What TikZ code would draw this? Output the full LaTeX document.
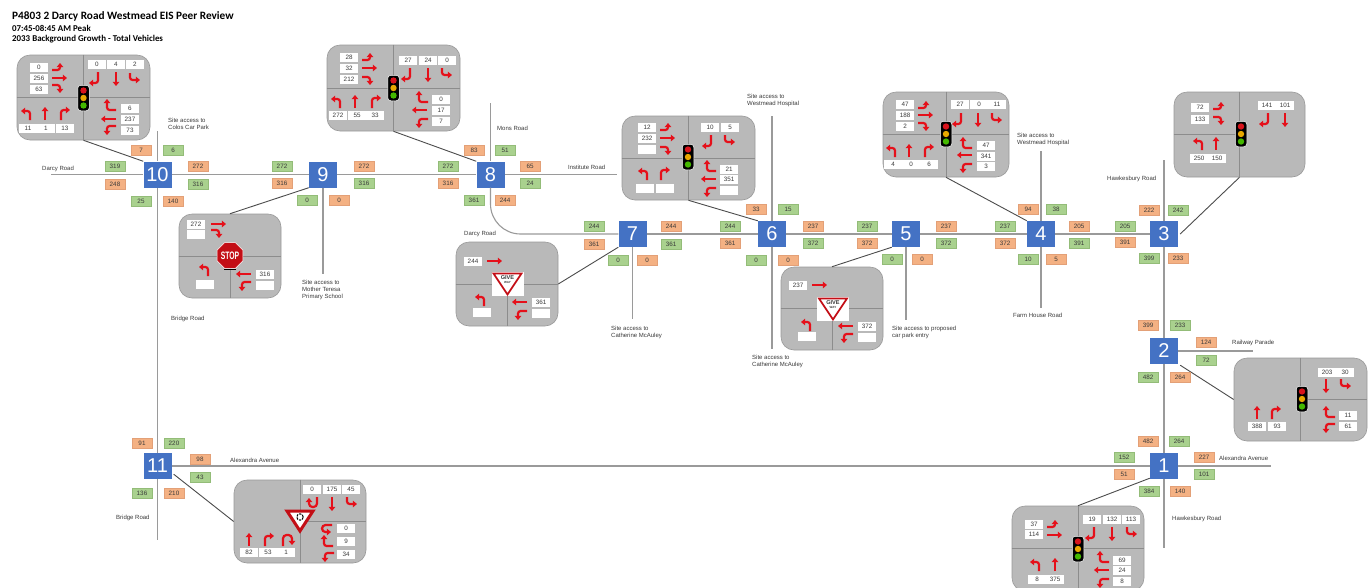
\documentclass[tikz,border=0pt]{standalone}
\usepackage{fontspec}
\setmainfont{Liberation Sans}
\newfontfamily\titlefont{Carlito}
\usetikzlibrary{arrows.meta,shapes.geometric,calc}
\definecolor{orangebox}{HTML}{F4B183}
\definecolor{orangeedge}{HTML}{E3A077}
\definecolor{greenbox}{HTML}{A9D18E}
\definecolor{greenedge}{HTML}{93BC78}
\definecolor{bluebox}{HTML}{4472C4}
\definecolor{panelgray}{HTML}{B9B9B9}
\definecolor{arrowred}{HTML}{E5101A}
\definecolor{roadgray}{HTML}{9A9A9A}
\definecolor{inkgray}{HTML}{3A3A3A}
\definecolor{amberlamp}{HTML}{E8A800}
\definecolor{greenlamp}{HTML}{44B800}
\definecolor{redlamp}{HTML}{D8141C}
\newcounter{nn}
\tikzset{
  road/.style={draw=roadgray,line width=1.1pt},
  leader/.style={draw=black!70,line width=0.9pt},
  divider/.style={draw=black!45,line width=0.7pt},
  panel/.style={draw=black!40,line width=0.6pt,fill=panelgray,rounded corners=13pt,inner sep=0pt,minimum width=#1},
  isect/.style={fill=bluebox,text=white,inner sep=0pt,minimum width=28pt,minimum height=26pt,font=\fontsize{20}{20}\selectfont},
  valbox/.style={fill=white,text=inkgray,inner sep=0pt,minimum width=17.5pt,minimum height=9pt,font=\fontsize{6.3}{7}\selectfont},
  orangelab/.style={fill=orangebox,draw=orangeedge,line width=0.4pt,text=inkgray,inner sep=0pt,minimum width=19.5pt,minimum height=10.5pt,font=\fontsize{6.3}{7}\selectfont},
  greenlab/.style={fill=greenbox,draw=greenedge,line width=0.4pt,text=inkgray,inner sep=0pt,minimum width=19.5pt,minimum height=10.5pt,font=\fontsize{6.3}{7}\selectfont},
  roadtext/.style={anchor=west,align=left,inner sep=0pt,text=inkgray,font=\fontsize{6}{7}\selectfont},
  heading/.style={anchor=west,inner sep=0pt,text=black,font=\titlefont\bfseries\fontsize{#1}{#1}\selectfont},
  movearrow/.style={draw=arrowred,line width=2.2pt,rounded corners=2.6pt,-{Triangle[length=4.2pt,width=6.6pt]}},
  signalbody/.style={fill=black,draw=white,line width=0.5pt,rounded corners=3pt,inner sep=0pt,minimum width=11.5pt,minimum height=25.5pt},
}
\newcommand\vb[3]{\stepcounter{nn}\node[valbox] (v\thenn) at (#1,#2) {#3};}
\newcommand\ol[3]{\stepcounter{nn}\node[orangelab] (o\thenn) at (#1,#2) {#3};}
\newcommand\gl[3]{\stepcounter{nn}\node[greenlab] (g\thenn) at (#1,#2) {#3};}
\newcommand\rt[3]{\stepcounter{nn}\node[roadtext] (t\thenn) at (#1,#2) {#3};}
\newcommand\EL[2]{\draw[movearrow] (#1,#2) -- ++(8,0) -- ++(0,-7);}
\newcommand\ET[2]{\draw[movearrow] (#1,#2) -- ++(15,0);}
\newcommand\ER[2]{\draw[movearrow] (#1,#2) -- ++(8,0) -- ++(0,8);}
\newcommand\SL[2]{\draw[movearrow] (#1,#2) -- ++(0,11) -- ++(-9,0);}
\newcommand\ST[2]{\draw[movearrow] (#1,#2) -- ++(0,14);}
\newcommand\SR[2]{\draw[movearrow] (#1,#2) -- ++(0,7) -- ++(10,0);}
\newcommand\NL[2]{\draw[movearrow] (#1,#2) -- ++(0,-9) -- ++(-9,0);}
\newcommand\NT[2]{\draw[movearrow] (#1,#2) -- ++(0,-13);}
\newcommand\NR[2]{\draw[movearrow] (#1,#2) -- ++(0,-10) -- ++(9,0);}
\newcommand\WU[2]{\draw[movearrow] (#1,#2) -- ++(-9,0) -- ++(0,-11);}
\newcommand\WT[2]{\draw[movearrow] (#1,#2) -- ++(-15,0);}
\newcommand\WD[2]{\draw[movearrow] (#1,#2) -- ++(-9,0) -- ++(0,9);}
\newcommand\sig[3]{%
  \node[signalbody] (#1) at (#2,#3) {};
  \fill[redlamp] (#2,#3-7.5) circle (3.2pt);
  \fill[amberlamp] (#2,#3) circle (3.2pt);
  \fill[greenlamp] (#2,#3+7.5) circle (3.2pt);}
\newcommand\giveway[3]{%
  \node[fill=white,inner sep=0pt,minimum width=32pt,minimum height=24pt] (#1) at (#2,#3) {};
  \draw[arrowred!85!black,line width=1.7pt,line join=miter,fill=white] (#2-14,#3-10.5) -- (#2+14,#3-10.5) -- (#2,#3+10.5) -- cycle;
  \node[inner sep=0pt,text=inkgray,font=\bfseries\fontsize{5.6}{5.6}\selectfont] (#1a) at (#2,#3-6.2) {GIVE};
  \node[inner sep=0pt,text=inkgray,font=\bfseries\fontsize{3}{3}\selectfont] (#1b) at (#2,#3-1.6) {WAY};}
\begin{document}
\begin{tikzpicture}[x=1pt,y=-1pt]
\useasboundingbox (0,0) rectangle (1371,587);
\clip (0,0) rectangle (1371,587);
\fill[white] (0,0) rectangle (1371,587);

% intersections
\node[isect] (n10) at (157.5,174.5) {10};
\node[isect] (n9)  at (323,174.5) {9};
\node[isect] (n8)  at (490.5,174.5) {8};
\node[isect] (n7)  at (632.5,234) {7};
\node[isect] (n6)  at (772,234) {6};
\node[isect] (n5)  at (906,234) {5};
\node[isect] (n4)  at (1041,234) {4};
\node[isect] (n3)  at (1164,234) {3};
\node[isect] (n2)  at (1164,351) {2};
\node[isect] (n1)  at (1164,466) {1};
\node[isect] (n11) at (157.5,466) {11};

% road ends
\coordinate (darcyW) at (51,174.5);
\coordinate (colos) at (157.5,131);
\coordinate (bridgeS) at (157.5,540);
\coordinate (mother) at (323,274);
\coordinate (mons) at (490.5,103);
\coordinate (inst) at (617,174.5);
\coordinate (cath7) at (632.5,319);
\coordinate (west6) at (772,116);
\coordinate (cath6) at (772,349);
\coordinate (park5) at (906,320);
\coordinate (west4) at (1041,151);
\coordinate (farm4) at (1041,308);
\coordinate (hawkN) at (1164,160);
\coordinate (hawkS) at (1164,548);
\coordinate (railE) at (1253,351);
\coordinate (alexE) at (1271,466);

% roads
\draw[road] (darcyW) -- (n10);
\draw[road] (n10) -- (n9);
\draw[road] (n9) -- (n8);
\draw[road] (n8) -- (inst);
\draw[road] (colos) -- (n10);
\draw[road] (n10) -- (n11);
\draw[road] (n11) -- (bridgeS);
\draw[road] (n9) -- (mother);
\draw[road] (mons) -- (n8);
\draw[road,rounded corners=30pt] (n8.south) |- (n7.west);
\draw[road] (n7) -- (n6);
\draw[road] (n6) -- (n5);
\draw[road] (n5) -- (n4);
\draw[road] (n4) -- (n3);
\draw[road] (n7) -- (cath7);
\draw[road] (west6) -- (n6);
\draw[road] (n6) -- (cath6);
\draw[road] (n5) -- (park5);
\draw[road] (west4) -- (n4);
\draw[road] (n4) -- (farm4);
\draw[road] (hawkN) -- (n3);
\draw[road] (n3) -- (n2);
\draw[road] (n2) -- (n1);
\draw[road] (n1) -- (hawkS);
\draw[road] (n2) -- (railE);
\draw[road] (n11) -- (n1);
\draw[road] (n1) -- (alexE);

% panels
\node[panel=133pt,minimum height=85pt] (p10) at (83.5,97.5) {};
\node[panel=133pt,minimum height=86pt] (p8) at (393.5,88) {};
\node[panel=133pt,minimum height=84pt] (p6) at (688.5,158) {};
\node[panel=126pt,minimum height=85pt] (p4) at (946,134.5) {};
\node[panel=131pt,minimum height=85pt] (p3) at (1239.5,134.5) {};
\node[panel=133pt,minimum height=83pt] (p2) at (1300.5,399.5) {};
\node[panel=132pt,minimum height=85pt] (p1) at (1078,548.5) {};
\node[panel=132pt,minimum height=83pt] (p11) at (300,521.5) {};
\node[panel=102pt,minimum height=84pt] (p9) at (230,256) {};
\node[panel=102pt,minimum height=84pt] (p7) at (507,284) {};
\node[panel=102pt,minimum height=83pt] (p5) at (832,308.5) {};

% leaders
\draw[leader] (p10.south) -- (n10.north west);
\draw[leader] (p9.north) -- (n9.south west);
\draw[leader] (p8.south) -- (n8.north west);
\draw[leader] (p7.east) -- (n7.south west);
\draw[leader] (p6.south) -- (n6.north west);
\draw[leader] (p5.north) -- (n5.south west);
\draw[leader] (p4.south) -- (n4.north west);
\draw[leader] (p3.south) -- ($(n3.east)+(2,0)$);
\draw[leader] (p2.west) -- ($(n2.south east)+(2,1)$);
\draw[leader] (p1.north) -- ($(n1.south west)+(0,-1)$);
\draw[leader] (p11.west) -- ($(n11.south east)+(2,-5)$);

% panel dividers
\draw[divider] (p10.north) -- (p10.south);
\draw[divider] (p10.west) -- (p10.east);
\draw[divider] (p8.north) -- (p8.south);
\draw[divider] (p8.west) -- (p8.east);
\draw[divider] (p6.north) -- (p6.south);
\draw[divider] (p6.west) -- (p6.east);
\draw[divider] (p4.north) -- (p4.south);
\draw[divider] (p4.west) -- (p4.east);
\draw[divider] (p3.north) -- (p3.south);
\draw[divider] (p3.west) -- (p3.center);
\draw[divider] (p2.north) -- (p2.south);
\draw[divider] (p2.center) -- (p2.east);
\draw[divider] (p1.north) -- (p1.south);
\draw[divider] (p1.west) -- (p1.east);
\draw[divider] (p11.north) -- (p11.south);
\draw[divider] (p11.center) -- (p11.east);
\draw[divider] (p9.center) -- (p9.south);
\draw[divider] (p9.west) -- (p9.east);
\draw[divider] (p7.center) -- (p7.south);
\draw[divider] (p7.west) -- (p7.east);
\draw[divider] (p5.center) -- (p5.south);
\draw[divider] (p5.west) -- (p5.east);

% panel 10
\sig{s10}{83.5}{98}
\vb{39}{67}{0}\vb{39}{78}{256}\vb{39}{89}{63}
\vb{97}{64.5}{0}\vb{116}{64.5}{4}\vb{135}{64.5}{2}
\vb{28}{128}{11}\vb{46}{128}{1}\vb{65}{128}{13}
\vb{130}{108}{6}\vb{130}{119}{237}\vb{130}{130}{73}
\EL{52}{70}\ET{52}{78}\ER{52}{85}
\SL{98}{72}\ST{116}{72}\SR{130}{73}
\NL{30}{120}\NT{45}{120}\NR{61}{120}
\WU{116}{110}\WT{116}{119}\WD{116}{126}

% panel 8
\sig{s8}{393.5}{88}
\vb{349}{57}{28}\vb{349}{68}{32}\vb{349}{79}{212}
\vb{408}{60}{27}\vb{428}{60}{24}\vb{447}{60}{0}
\vb{338}{115}{272}\vb{357}{115}{55}\vb{375}{115}{33}
\vb{441}{99}{0}\vb{441}{110}{17}\vb{441}{121}{7}
\EL{362}{60}\ET{362}{68}\ER{362}{77}
\SL{410}{68}\ST{428}{68}\SR{442}{68}
\NL{340}{108}\NT{355}{108}\NR{372}{108}
\WU{428}{102}\WT{427}{110}\WD{428}{119}

% panel 6
\sig{s6}{688}{157}
\vb{647}{127}{12}\vb{647}{138}{232}\vb{647}{149}{}
\vb{710}{127}{10}\vb{730}{127}{5}
\vb{645}{188}{}\vb{665}{188}{}
\vb{729}{169}{21}\vb{729}{179}{351}\vb{729}{190}{}
\EL{660}{130}\ET{660}{138}\ER{660}{147}
\SL{711}{135}\SR{725}{135}
\NL{647}{180}\NR{661}{180}
\WU{716}{171}\WT{716}{179}\WD{716}{188}

% panel 4
\sig{s4}{946}{134}
\vb{905}{104}{47}\vb{905}{115}{188}\vb{905}{126}{2}
\vb{960}{104}{27}\vb{979}{104}{0}\vb{997}{104}{11}
\vb{893}{164}{4}\vb{911}{164}{0}\vb{929}{164}{6}
\vb{986}{145}{47}\vb{986}{156}{341}\vb{986}{166}{3}
\EL{918}{108}\ET{918}{115}\ER{918}{123}
\SL{961}{113}\ST{978}{113}\SR{992}{113}
\NL{895}{157}\NT{909}{157}\NR{925}{157}
\WU{972}{148}\WT{972}{155}\WD{972}{164}

% panel 3
\sig{s3}{1241}{134}
\vb{1200}{107}{72}\vb{1200}{119}{133}
\vb{1267}{105}{141}\vb{1285}{105}{101}
\vb{1199}{158}{250}\vb{1217}{158}{150}
\EL{1213}{109}\ER{1213}{117}
\SL{1268}{113}\ST{1285}{113}
\NL{1202}{150}\NT{1216}{150}

% panel 2
\sig{s2}{1302}{399}
\vb{1327}{372}{203}\vb{1345}{372}{30}
\vb{1257}{426}{388}\vb{1277}{426}{93}
\vb{1348}{415}{11}\vb{1348}{426}{61}
\ST{1326}{379}\SR{1341}{379}
\NT{1257}{419}\NR{1272}{419}
\WU{1335}{417}\WD{1335}{424}

% panel 1
\sig{s1}{1078}{549}
\vb{1034}{524}{37}\vb{1034}{534}{114}
\vb{1092}{519}{19}\vb{1112}{519}{132}\vb{1131}{519}{113}
\vb{1037}{579}{8}\vb{1055}{579}{375}
\vb{1122}{560}{69}\vb{1122}{570}{24}\vb{1122}{581}{8}
\EL{1047}{527}\ET{1047}{535}
\SL{1094}{527}\ST{1112}{527}\SR{1127}{527}
\NL{1039}{571}\NT{1055}{571}
\WU{1109}{562}\WT{1109}{570}\WD{1109}{579}

% panel 11
\vb{312}{489}{0}\vb{332}{489}{175}\vb{351}{489}{45}
\vb{249}{552}{82}\vb{268}{552}{53}\vb{286}{552}{1}
\vb{346}{528}{0}\vb{346}{541}{9}\vb{346}{554}{34}
\draw[movearrow,rounded corners=3.5pt] (317,497) -- (317,507) -- (309,507) -- (309,498);
\ST{332}{497}\SR{347}{497}
\NT{249}{546}\NR{265}{546}
\draw[movearrow,rounded corners=3.5pt] (283,546) -- (283,535) -- (292,535) -- (292,545);
\draw[movearrow,rounded corners=3.5pt] (332,525) -- (322,525) -- (322,532) -- (331,532);
\WU{333}{546}\WD{334}{553}
\draw[line width=3pt,arrowred!85!black,fill=white,line join=miter] (287,511) -- (313,511) -- (300,531) -- cycle;
\draw[black,line width=1pt,dash pattern=on 2.4pt off 1pt] (300,517) circle (3.2pt);

% panel 9
\vb{196}{224}{272}\vb{196}{234}{}
\vb{205}{284}{}
\vb{265}{274}{316}\vb{265}{285}{}
\ET{211}{224}\ER{211}{230}
\NL{208}{276}
\WT{251}{274}\WD{251}{282}
\node[regular polygon,regular polygon sides=8,minimum size=28pt,inner sep=0pt,fill=arrowred!85!black,draw=white,line width=0.6pt] (stop9) at (230,255.5) {};
\node[inner sep=0pt,text=white,font=\bfseries\fontsize{8}{8}\selectfont] (stop9t) at (stop9.center) {\scalebox{0.85}[1.35]{STOP}};
\fill[black] (224,268.5) rectangle (236,270);

% panel 7
\vb{473}{261}{244}
\vb{482}{312}{}
\vb{541}{302}{361}\vb{541}{313}{}
\ET{487}{261}
\NL{484}{306}
\WT{527}{302}\WD{527}{311}
\giveway{g7}{507.5}{284}

% panel 5
\vb{798}{285}{237}
\vb{807}{336}{}
\vb{867}{326}{372}\vb{867}{337}{}
\ET{812}{285}
\NL{810}{331}
\WT{853}{326}\WD{853}{334}
\giveway{g5}{833}{309}

% flow labels 10
\ol{141}{150}{7}\gl{173}{150}{6}\gl{115}{166}{319}\ol{115}{184}{248}
\ol{198}{166}{272}\gl{198}{184}{316}\gl{141}{201}{25}\ol{173}{201}{140}
% 9
\gl{282}{166}{272}\ol{282}{183}{316}\gl{307}{200}{0}\ol{339}{200}{0}
\ol{364}{166}{272}\gl{364}{183}{316}
% 8
\ol{474}{150}{83}\gl{505}{150}{51}\gl{448}{166}{272}\ol{448}{183}{316}
\ol{530}{166}{65}\gl{530}{183}{24}\gl{474}{200}{361}\ol{505}{200}{244}
% 7
\gl{594}{226}{244}\ol{594}{244}{361}\gl{618}{260}{0}\ol{647}{260}{0}
\ol{671}{226}{244}\gl{671}{244}{361}
% 6
\ol{756}{209}{33}\gl{788}{209}{15}\gl{730}{226}{244}\ol{730}{243}{361}
\ol{813}{226}{237}\gl{813}{243}{372}\gl{756}{260}{0}\ol{788}{260}{0}
% 5
\gl{867}{226}{237}\ol{867}{243}{372}\ol{946}{226}{237}\gl{946}{243}{372}
\gl{892}{259}{0}\ol{922}{259}{0}
% 4
\ol{1028}{209}{94}\gl{1056}{209}{38}\gl{1005}{226}{237}\ol{1005}{243}{372}
\ol{1079}{226}{205}\gl{1079}{243}{391}\gl{1028}{259}{10}\ol{1056}{259}{5}
% 3
\ol{1149}{210}{222}\gl{1178}{210}{242}\gl{1125}{226}{205}\ol{1125}{242}{391}
\gl{1149}{258}{399}\ol{1178}{258}{233}
% 2
\ol{1148}{325}{399}\gl{1180}{325}{233}\ol{1206}{342}{124}\gl{1206}{360}{72}
\gl{1148}{377}{482}\ol{1180}{377}{264}
% 1
\ol{1148}{441}{482}\gl{1179}{441}{264}\gl{1124}{457}{152}\ol{1124}{474}{51}
\ol{1204}{457}{227}\gl{1204}{474}{101}\gl{1149}{491}{384}\ol{1180}{491}{140}
% 11
\ol{142}{443}{91}\gl{174}{443}{220}\ol{200}{459}{98}\gl{200}{477}{43}
\gl{142}{493}{136}\ol{174}{493}{210}

% road labels
\rt{168}{123.5}{Site access to\\Colos Car Park}
\rt{42}{169}{Darcy Road}
\rt{171}{319}{Bridge Road}
\rt{302}{290}{Site access to\\Mother Teresa\\Primary School}
\rt{497}{128}{Mons Road}
\rt{568}{167}{Institute Road}
\rt{464}{234}{Darcy Road}
\rt{611}{332.5}{Site access to\\Catherine McAuley}
\rt{747}{100.5}{Site access to\\Westmead Hospital}
\rt{752}{361.5}{Site access to\\Catherine McAuley}
\rt{892}{332.5}{Site access to proposed\\car park entry}
\rt{1017}{139.5}{Site access to\\Westmead Hospital}
\rt{1013}{315}{Farm House Road}
\rt{1107}{179}{Hawkesbury Road}
\rt{1232}{343}{Railway Parade}
\rt{1219}{458}{Alexandra Avenue}
\rt{1172}{519}{Hawkesbury Road}
\rt{230}{460}{Alexandra Avenue}
\rt{116}{518}{Bridge Road}

% headings
\node[heading=11.25] (title) at (12,16) {P4803 2 Darcy Road Westmead EIS Peer Review};
\node[heading=8.9] (sub1) at (12,28.5) {07:45-08:45 AM Peak};
\node[heading=8.9] (sub2) at (12,39.5) {2033 Background Growth - Total Vehicles};
\end{tikzpicture}
\end{document}
